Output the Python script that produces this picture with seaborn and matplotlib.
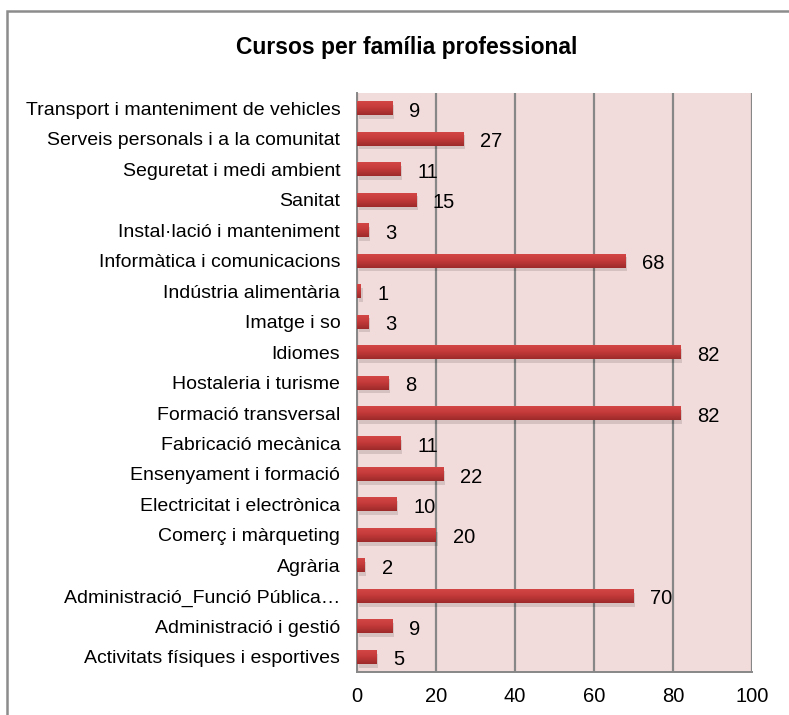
import numpy as np
import pandas as pd
import matplotlib
matplotlib.use("Agg")
import matplotlib.pyplot as plt
import seaborn as sns
from matplotlib.patches import Rectangle
from matplotlib.colors import LinearSegmentedColormap

categories = [
    "Transport i manteniment de vehicles",
    "Serveis personals i a la comunitat",
    "Seguretat i medi ambient",
    "Sanitat",
    "Instal·lació i manteniment",
    "Informàtica i comunicacions",
    "Indústria alimentària",
    "Imatge i so",
    "Idiomes",
    "Hostaleria i turisme",
    "Formació transversal",
    "Fabricació mecànica",
    "Ensenyament i formació",
    "Electricitat i electrònica",
    "Comerç i màrqueting",
    "Agrària",
    "Administració_Funció Pública…",
    "Administració i gestió",
    "Activitats físiques i esportives",
]
cursos = [9, 27, 11, 15, 3, 68, 1, 3, 82, 8, 82, 11, 22, 10, 20, 2, 70, 9, 5]
x_ticks = [0, 20, 40, 60, 80, 100]

df = pd.DataFrame({"familia": categories, "cursos": cursos})

sns.set_style("white")
plt.rcParams["font.family"] = ["Liberation Sans", "DejaVu Sans"]
plt.rcParams["text.color"] = "black"
plt.rcParams["xtick.labelcolor"] = "black"
plt.rcParams["ytick.labelcolor"] = "black"

fig = plt.figure(figsize=(7.89, 7.15), dpi=100)
ax = fig.add_axes([0.4525, 0.060, 0.5005, 0.810])
ax.set_facecolor("#f2dcdb")

sns.barplot(data=df, x="cursos", y="familia", orient="h", color="#c0393b",
            width=0.46, ax=ax, zorder=3)

# vertical gradient on each bar, like the Excel original
grad = LinearSegmentedColormap.from_list("bar", ["#d64848", "#c43a3a", "#9e2a2a"])
g = np.linspace(0, 1, 32).reshape(-1, 1)
for p in ax.patches:
    x0, y0 = p.get_x(), p.get_y()
    w, h = p.get_width(), p.get_height()
    p.set_facecolor("none")
    p.set_edgecolor("none")
    im = ax.imshow(g, cmap=grad, aspect="auto", extent=(x0, x0 + w, y0 + h, y0),
                   zorder=3)
    im.set_clip_path(p)
    # soft shadow
    ax.add_patch(Rectangle((x0 + 0.4, y0 + 0.12), w, h, facecolor="#000000",
                           alpha=0.12, edgecolor="none", zorder=2))

ax.set_xlim(0, 100)
ax.set_ylim(len(categories) - 0.5, -0.5)
ax.set_xticks(x_ticks)
ax.set_xticklabels([str(t) for t in x_ticks], fontsize=14.5)
ax.xaxis.grid(True, color="#878787", linewidth=1.6, zorder=1)
ax.set_axisbelow(True)

# y ticks between categories, labels at centers
ax.set_yticks(range(len(categories)))
ax.set_yticklabels(categories, fontsize=14)
ax.set_yticks(np.arange(-0.5, len(categories), 1), minor=True)
ax.tick_params(axis="y", which="major", length=0, pad=12)
ax.tick_params(axis="y", which="minor", length=6, color="#878787", width=1.4)
ax.tick_params(axis="x", length=6, color="#878787", width=1.4, pad=5)

for s in ["top", "right"]:
    ax.spines[s].set_visible(False)
for s in ["left", "bottom"]:
    ax.spines[s].set_color("#878787")
    ax.spines[s].set_linewidth(1.4)

ax.set_xlabel("")
ax.set_ylabel("")

for i, v in enumerate(cursos):
    ax.text(v + 4.2, i + 0.1, str(v), va="center", ha="left", fontsize=14.5,
            color="black", zorder=4)

fig.text(0.515, 0.933, "Cursos per família professional", ha="center",
         va="center", fontsize=16.5, fontweight="bold")

# outer chart border (extends off the right and bottom of the image)
fig.add_artist(Rectangle((7 / 789, -0.05), 1.1, 1 - 11 / 715 + 0.05,
                         transform=fig.transFigure, fill=False,
                         edgecolor="#8c8c8c", linewidth=1.8, clip_on=False))

fig.savefig("out.png", dpi=100)
